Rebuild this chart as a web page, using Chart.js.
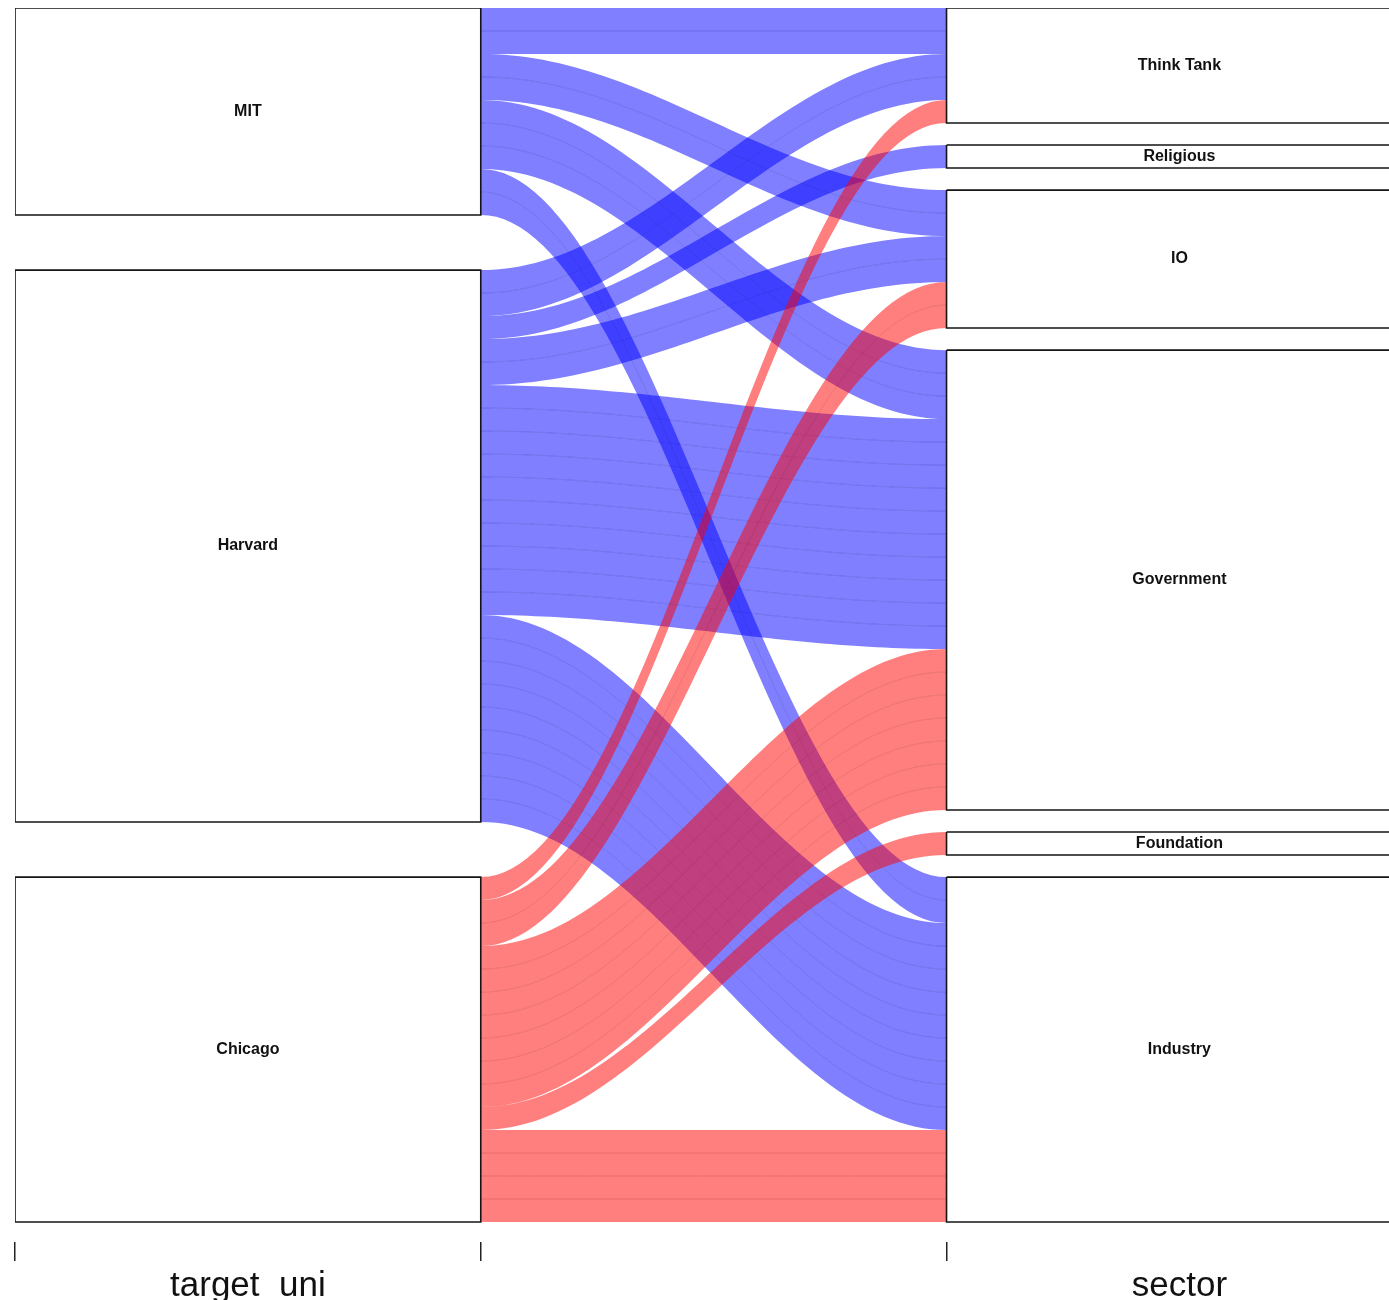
<!DOCTYPE html>
<html>
<head>
<meta charset="utf-8">
<title>target_uni / sector</title>
<script src="https://cdn.jsdelivr.net/npm/chart.js@4.4.1/dist/chart.umd.min.js"></script>
<style>
  html, body { margin: 0; padding: 0; background: #fff; overflow: hidden; }
  #wrap { position: relative; width: 1389px; height: 1312px; }
</style>
</head>
<body>
<div id="wrap"><canvas id="chart"></canvas></div>
<script>
// Data

const targetUni = ['MIT', 'Harvard', 'Chicago'];
const sector = ['Think Tank', 'Religious', 'IO', 'Government', 'Foundation', 'Industry'];

// people from each university going to each sector (same order as sector)
const mitCounts     = [2, 0, 2, 3, 0, 2];
const harvardCounts = [2, 1, 2, 10, 0, 9];
const chicagoCounts = [1, 0, 2, 7, 1, 4];

const axisNames = ['target_uni', 'sector'];


// Layout helpers

const counts = [mitCounts, harvardCounts, chicagoCounts];
const gapWidth = 0.1;
const FONT = '"Liberation Sans", Arial, Helvetica, sans-serif';

const total = counts.flat().reduce((a, b) => a + b, 0);
const uniTotals = counts.map(row => row.reduce((a, b) => a + b, 0));
const sectorTotals = sector.map((_, j) => counts.reduce((a, row) => a + row[j], 0));

const leftGap = gapWidth * total / (targetUni.length - 1);
const rightGap = gapWidth * total / (sector.length - 1);

function stackTops(totals, gap) {
  const tops = [];
  let y = 0;
  totals.forEach(t => { tops.push(y); y += t + gap; });
  return tops;
}

const uniTops = stackTops(uniTotals, leftGap);
const sectorTops = stackTops(sectorTotals, rightGap);

const uniFill = ['rgba(0, 0, 255, 0.5)', 'rgba(0, 0, 255, 0.5)', 'rgba(255, 0, 0, 0.5)'];
const uniLine = ['rgba(0, 0, 140, 0.18)', 'rgba(0, 0, 140, 0.18)', 'rgba(140, 0, 0, 0.18)'];

// smooth S shaped edge between the two axes
function curve(y0, y1) {
  const pts = [];
  const n = 60;
  for (let k = 0; k <= n; k++) {
    const t = k / n;
    const s = (1 - Math.cos(Math.PI * t)) / 2;
    pts.push({ x: 1 + t, y: y0 + (y1 - y0) * s });
  }
  return pts;
}

function boxDataset(x0, x1, y0, y1) {
  return {
    data: [{ x: x0, y: y0 }, { x: x1, y: y0 }, { x: x1, y: y1 }, { x: x0, y: y1 }, { x: x0, y: y0 }],
    showLine: true,
    pointRadius: 0,
    borderColor: '#151515',
    borderWidth: 1.6,
    fill: false,
    order: -1
  };
}

const datasets = [];
const leftCursor = uniTops.slice();
const rightCursor = sectorTops.slice();

counts.forEach((row, i) => {
  row.forEach((n, j) => {
    if (!n) return;
    const y0 = leftCursor[i];
    const y1 = rightCursor[j];
    leftCursor[i] += n;
    rightCursor[j] += n;
    // one strip per person, like the original
    for (let k = 0; k <= n; k++) {
      datasets.push({
        data: curve(y0 + k, y1 + k),
        showLine: true,
        pointRadius: 0,
        borderWidth: 1,
        borderColor: (k === 0 || k === n) ? 'rgba(0,0,0,0)' : uniLine[i],
        backgroundColor: uniFill[i],
        fill: k === 0 ? false : '-1',
        order: i === 2 ? 0 : 1
      });
    }
  });
});

targetUni.forEach((name, i) => datasets.push(boxDataset(0, 1, uniTops[i], uniTops[i] + uniTotals[i])));
sector.forEach((name, j) => datasets.push(boxDataset(2, 3, sectorTops[j], sectorTops[j] + sectorTotals[j])));

// names in the middle of each box
const nodeLabels = {
  id: 'nodeLabels',
  afterDatasetsDraw(chart) {
    const { ctx, scales: { x, y } } = chart;
    ctx.save();
    ctx.font = 'bold 16px ' + FONT;
    ctx.fillStyle = '#111';
    ctx.textAlign = 'center';
    ctx.textBaseline = 'middle';
    targetUni.forEach((name, i) => {
      ctx.fillText(name, x.getPixelForValue(0.5), y.getPixelForValue(uniTops[i] + uniTotals[i] / 2));
    });
    sector.forEach((name, j) => {
      ctx.fillText(name, x.getPixelForValue(2.5), y.getPixelForValue(sectorTops[j] + sectorTotals[j] / 2));
    });
    ctx.restore();
  }
};

document.addEventListener('DOMContentLoaded', function() {
  const ctx = document.getElementById('chart').getContext('2d');

  new Chart(ctx, {
    type: 'scatter',
    data: { datasets: datasets },
    plugins: [nodeLabels],
    options: {
      responsive: true,
      maintainAspectRatio: false,
      animation: false,
      layout: { padding: { left: 15, top: 8, right: 0, bottom: 0 } },
      plugins: {
        legend: { display: false },
        tooltip: { enabled: false }
      },
      scales: {
        x: {
          type: 'linear',
          min: 0,
          max: 2.95,
          afterBuildTicks: s => { s.ticks = [0, 0.5, 1, 2, 2.5].map(v => ({ value: v })); },
          afterFit: s => { s.height = 70; },
          border: { display: false },
          grid: {
            drawOnChartArea: false,
            tickLength: 19,
            lineWidth: 1.5,
            color: c => (c.tick && c.tick.value % 1 === 0) ? '#222' : 'rgba(0,0,0,0)'
          },
          ticks: {
            autoSkip: false,
            maxRotation: 0,
            padding: 4,
            color: '#111',
            font: { size: 35, family: FONT },
            callback: v => v === 0.5 ? axisNames[0] : (v === 2.5 ? axisNames[1] : '')
          }
        },
        y: {
          display: false,
          reverse: true,
          min: 0,
          max: total * (1 + gapWidth) + 0.87
        }
      }
    }
  });
});
</script>
</body>
</html>
